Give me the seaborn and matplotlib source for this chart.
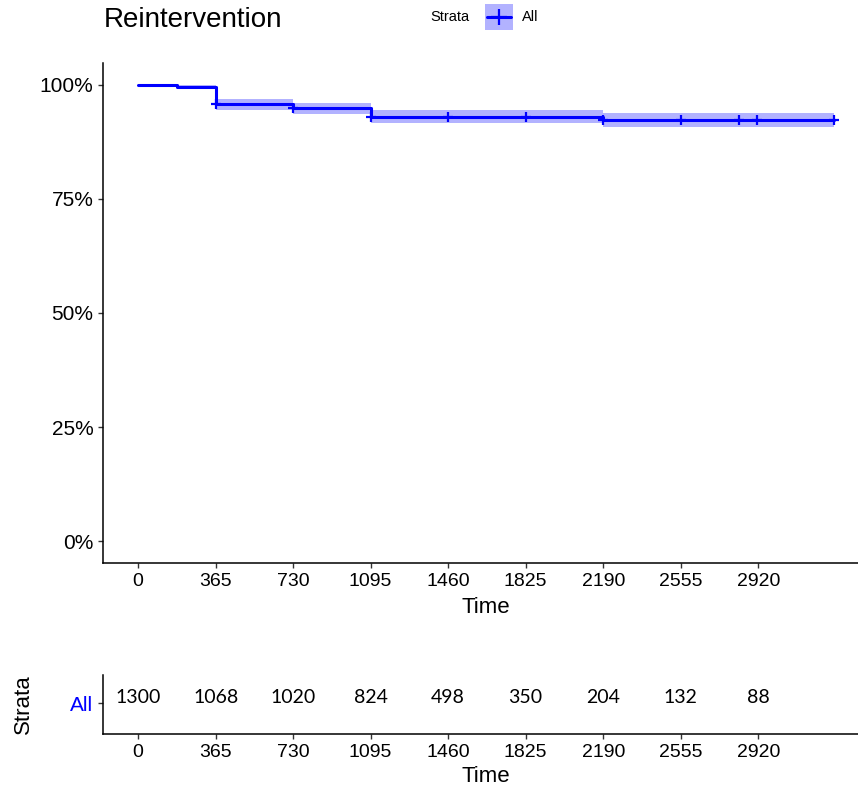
import numpy as np
import pandas as pd
import matplotlib
matplotlib.use("Agg")
import matplotlib.pyplot as plt
from matplotlib.patches import Rectangle
from matplotlib.lines import Line2D
import seaborn as sns

# Kaplan-Meier estimate for reintervention (step times in days)
step_time = [0, 182, 365, 730, 1095, 2190, 3275]
surv = [1.000, 0.995, 0.958, 0.949, 0.929, 0.923, 0.923]
ci_lower = [1.000, 0.991, 0.945, 0.937, 0.916, 0.907, 0.907]
ci_upper = [1.000, 0.999, 0.969, 0.961, 0.944, 0.939, 0.939]

# censoring times (drawn as "+" on the curve)
censor_time = [365, 730, 1095, 1460, 1825, 2190, 2555, 2830, 2915, 3275]

# numbers at risk
risk_time = [0, 365, 730, 1095, 1460, 1825, 2190, 2555, 2920]
n_risk = [1300, 1068, 1020, 824, 498, 350, 204, 132, 88]

x_ticks = [0, 365, 730, 1095, 1460, 1825, 2190, 2555, 2920]
y_ticks = [0, 0.25, 0.50, 0.75, 1.00]
y_tick_labels = ["0%", "25%", "50%", "75%", "100%"]

sns.set_theme(style="ticks")
plt.rcParams["font.family"] = ["Liberation Sans", "DejaVu Sans"]

BLUE = "#0000FF"
W, H = 858, 789
fig = plt.figure(figsize=(W / 100, H / 100), dpi=100)
fig.patch.set_facecolor("white")

x_right_px = 868.4
ax = fig.add_axes([103.3 / W, 1 - 563 / H, (x_right_px - 103.3) / W, 500 / H])
rax = fig.add_axes([103.3 / W, 1 - 734 / H, (x_right_px - 103.3) / W, 59 / H])

km = pd.DataFrame({"time": step_time, "surv": surv, "lower": ci_lower, "upper": ci_upper})

def surv_at(t):
    idx = np.searchsorted(km["time"].to_numpy(), t, side="right") - 1
    return km["surv"].to_numpy()[idx]

censor = pd.DataFrame({"time": censor_time, "surv": [surv_at(t) for t in censor_time]})

# confidence band
ax.fill_between(km["time"], km["lower"], km["upper"], step="post",
                color=BLUE, alpha=0.3, linewidth=0)
# survival curve
sns.lineplot(data=km, x="time", y="surv", drawstyle="steps-post",
             color=BLUE, linewidth=2.2, ax=ax, estimator=None, sort=True)
# censor marks
sns.scatterplot(data=censor, x="time", y="surv", marker="+", s=60,
                color=BLUE, linewidth=1.6, ax=ax, zorder=4)

xlim = (-163.75, 3438.75)
ax.set_xlim(*xlim)
ax.set_ylim(-0.048, 1.048)
ax.set_xticks(x_ticks)
ax.set_xticklabels([str(t) for t in x_ticks])
ax.set_yticks(y_ticks)
ax.set_yticklabels(y_tick_labels)
ax.set_xlabel("Time", fontsize=16, labelpad=5, color="black")
ax.set_ylabel("")
ax.set_title("Reintervention", loc="left", fontsize=20, pad=26, color="black")

for a in (ax, rax):
    for side in ("top", "right"):
        a.spines[side].set_visible(False)
    for side in ("left", "bottom"):
        a.spines[side].set_linewidth(1.1)
        a.spines[side].set_color("black")
    a.tick_params(axis="both", length=3.6, width=1.0, color="#333333",
                  labelsize=14, labelcolor="black", pad=3.5)
ax.tick_params(axis="y", labelsize=15)

# risk table
rax.set_xlim(*xlim)
rax.set_ylim(-0.52, 0.48)
rax.set_xticks(x_ticks)
rax.set_xticklabels([str(t) for t in x_ticks])
rax.set_yticks([0])
rax.set_yticklabels(["All"], color=BLUE)
rax.tick_params(axis="y", labelsize=15)
for t, n in zip(risk_time, n_risk):
    rax.annotate(str(n), xy=(t, 0), xytext=(0, 4), textcoords="offset points",
                 ha="center", va="center", fontsize=14, family="Lato", color="black")
rax.set_xlabel("Time", fontsize=16, labelpad=4, color="black")
rax.set_ylabel("Strata", fontsize=16, labelpad=26, color="black")

# legend: "Strata" title with the key placed beside it
ly = 1 - 17 / H
fig.text(430 / W, ly, "Strata", fontsize=10.5, ha="left", va="center", color="black")
fig.add_artist(Rectangle((485 / W, 1 - 30 / H), 28 / W, 26 / H,
                         transform=fig.transFigure, facecolor=BLUE, alpha=0.3,
                         edgecolor="none"))
fig.add_artist(Line2D([487 / W, 511 / W], [ly, ly], transform=fig.transFigure,
                      color=BLUE, linewidth=2.2))
fig.add_artist(Line2D([499 / W], [ly], transform=fig.transFigure, color=BLUE,
                      marker="+", markersize=11, markeredgewidth=1.6, linestyle="none"))
fig.text(522 / W, ly, "All", fontsize=10.5, ha="left", va="center", color="black")

fig.savefig("out.png", dpi=100, facecolor="white")
